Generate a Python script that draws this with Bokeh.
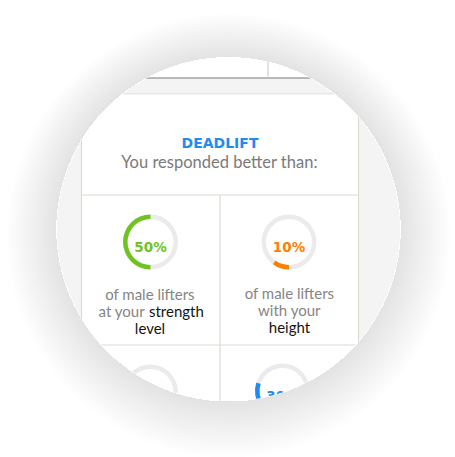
import numpy as np
from bokeh.plotting import figure
from bokeh.models import Range1d
from bokeh.core.properties import value
from bokeh.embed import file_html
from bokeh.resources import INLINE

# ---------------- data ----------------
title_lift = "DEADLIFT"
subtitle = "You responded better than:"
percentages = [50, 10, 20, 30]
pct_labels = ["50%", "10%", "20%", "30%"]
ring_colors = ["#6ec41e", "#ff8000", "#ff8000", "#1e8cf0"]
line1_gray = ["of male lifters", "of male lifters"]
line2_gray = ["at your", "with your"]
line2_dark = ["strength", ""]
line3_dark = ["level", "height"]

# ---------------- layout ----------------
W, H = 455, 457
CX, CY, R = 228.0, 228.8, 171.8
donut_x = [150.0, 288.5, 150.0, 282.0]
donut_y = [241.5, 241.5, 391.5, 390.5]
R_OUT, R_IN = 27.5, 23.0
GRID = "#dcdbd0"
BLUE = "#1e8cf0"
GRAY_TXT = "#858585"
DARK_TXT = "#141414"

p = figure(width=W, height=H, x_range=Range1d(0, W), y_range=Range1d(H, 0),
           output_backend="svg", toolbar_location=None,
           x_axis_location=None, y_axis_location=None, min_border=0)
p.grid.visible = False
p.outline_line_color = None
p.background_fill_color = "#ffffff"
p.border_fill_color = "#ffffff"

# lens background
p.circle(x=[CX], y=[CY], radius=R, radius_units="screen", fill_color="#f4f4f4", line_color=None)

# top (previous card) area
p.quad(left=[145], right=[310], top=[CY - R - 5], bottom=[77], fill_color="#ffffff", line_color=None)
p.segment(x0=[267.5], y0=[40], x1=[267.5], y1=[76], line_color="#cfcfcf", line_width=1.2)
p.segment(x0=[145], y0=[77.5], x1=[310], y1=[77.5], line_color="#a3a3a3", line_width=1.6)
p.segment(x0=[CX - R], y0=[93.5], x1=[CX + R], y1=[93.5], line_color=GRID, line_width=1.2)

# white panel
BOT = CY + R + 5
p.quad(left=[81], right=[358], top=[94], bottom=[BOT], fill_color="#ffffff", line_color=None)
p.segment(x0=[81, 358, 81, 81, 219.5], y0=[93.5, 93.5, 194.5, 344.5, 194.5],
          x1=[81, 358, 358, 358, 219.5], y1=[BOT, BOT, 194.5, 344.5, BOT],
          line_color=GRID, line_width=1.2)

# titles
p.text(x=[219.5], y=[142], text=[title_lift], text_align="center", text_baseline="alphabetic",
       text_font=value("DejaVu Sans"), text_font_style="bold", text_font_size="14px",
       text_color=BLUE)
p.text(x=[219], y=[161.5], text=[subtitle], text_align="center", text_baseline="alphabetic",
       text_font=value("Lato"), text_font_size="16.5px", text_color="#7a7a7a")

# donuts
p.annulus(x=donut_x, y=donut_y, inner_radius=R_IN, outer_radius=R_OUT,
          inner_radius_units="screen", outer_radius_units="screen",
          fill_color="#ebebeb", line_color=None)
starts = [1.5 * np.pi - 2 * np.pi * v / 100.0 for v in percentages]
ends = [1.5 * np.pi for _ in percentages]
p.annular_wedge(x=donut_x, y=donut_y, inner_radius=R_IN, outer_radius=R_OUT,
                inner_radius_units="screen", outer_radius_units="screen",
                start_angle=starts, end_angle=ends, direction="anticlock",
                fill_color=ring_colors, line_color=None)
p.text(x=donut_x, y=[d + 5 for d in donut_y], text=pct_labels, text_align="center",
       text_baseline="alphabetic", text_font=value("DejaVu Sans"), text_font_style="bold",
       text_font_size="13.5px", text_color=ring_colors)

# labels
cell_x = [149.5, 289.0]
base1 = [293.0, 292.0]
lh = 17.0
FS = "15px"
p.text(x=cell_x, y=base1, text=line1_gray, text_align="center", text_baseline="alphabetic",
       text_font=value("Lato"), text_font_size=FS, text_color=GRAY_TXT)
for i in range(2):
    if line2_dark[i]:
        p.text(x=[cell_x[i] - 5], y=[base1[i] + lh], text=[line2_gray[i]], text_align="right",
               text_baseline="alphabetic", text_font=value("Lato"), text_font_size=FS,
               text_color=GRAY_TXT)
        p.text(x=[cell_x[i] - 1], y=[base1[i] + lh], text=[line2_dark[i]], text_align="left",
               text_baseline="alphabetic", text_font=value("Lato"), text_font_size=FS,
               text_color=DARK_TXT)
    else:
        p.text(x=[cell_x[i]], y=[base1[i] + lh], text=[line2_gray[i]], text_align="center",
               text_baseline="alphabetic", text_font=value("Lato"), text_font_size=FS,
               text_color=GRAY_TXT)
p.text(x=cell_x, y=[b + 2 * lh for b in base1], text=line3_dark, text_align="center",
       text_baseline="alphabetic", text_font=value("Lato"), text_font_size=FS,
       text_color=DARK_TXT)

# circular mask (white outside the lens)
t = np.linspace(0, 2 * np.pi, 241)
hx = list(CX + R * np.cos(t))
hy = list(CY + R * np.sin(t))
p.multi_polygons(xs=[[[[-20, W + 20, W + 20, -20], hx]]],
                 ys=[[[[-20, -20, H + 20, H + 20], hy]]],
                 fill_color="#ffffff", line_color=None)

# soft shadow around the lens
N = 28
sxs, sys = [], []
for k in range(1, N + 1):
    rk = R + 1.8 * k
    dy = 0.22 * k
    ox = list(CX + rk * np.cos(t))
    oy = list(CY + dy + rk * np.sin(t))
    sxs.append([[ox, hx]])
    sys.append([[oy, hy]])
p.multi_polygons(xs=sxs, ys=sys, fill_color="#000000", fill_alpha=0.0026, line_color=None)

open("out.html", "w").write(file_html(p, INLINE))
